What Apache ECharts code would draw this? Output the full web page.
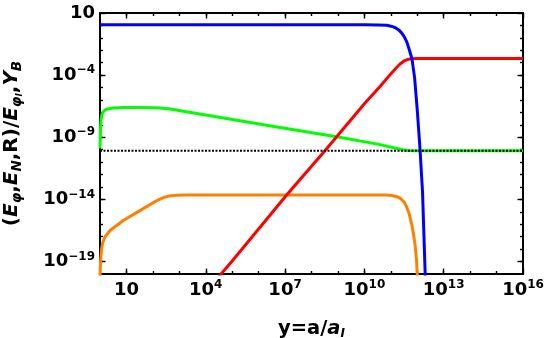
<!DOCTYPE html>
<html><head><meta charset="utf-8">
<script src="https://cdn.jsdelivr.net/npm/echarts@6/dist/echarts.min.js"></script>
<style>html,body{margin:0;padding:0;background:#fff}#c{width:550px;height:338px}</style>
</head><body><div id="c"></div><script>
// Tick exponents (powers of ten)
const xMajorExp = [1, 4, 7, 10, 13, 16];
const xMinorExp = [1, 2, 3, 4, 5, 6, 7, 8, 9, 10, 11, 12, 13, 14, 15];
const yMajorExp = [-19, -14, -9, -4, 1];
const yMinorExp = [-19, -18, -17, -16, -15, -14, -13, -12, -11, -10, -9, -8, -7, -6, -5, -4, -3, -2, -1, 0];
const xRangeExp = [0, 16];
const yRangeExp = [-20, 1];

// Series values, as log10(x) and log10(y)
const blueLogX   = [0, 10.0, 10.5, 10.85, 11.0, 11.1, 11.2, 11.3, 11.4, 11.5, 11.6, 11.7, 11.8, 11.9, 12.0, 12.1, 12.2, 12.3, 12.32];
const blueLogY   = [0.05, 0.05, 0.04, 0.01, -0.06, -0.12, -0.22, -0.36, -0.58, -0.88, -1.3, -1.96, -2.7, -4.2, -6.8, -9.8, -13.4, -20.0, -21.0];
const redLogX    = [4.5, 5.0, 7.06, 8.5, 10.0, 10.6, 11.0, 11.2, 11.35, 11.5, 11.65, 11.8, 12.0, 16];
const redLogY    = [-20.2, -18.95, -13.65, -10.1, -6.3, -4.9, -3.9, -3.42, -3.1, -2.86, -2.73, -2.68, -2.66, -2.66];
const greenLogX  = [0, 0.01, 0.02, 0.04, 0.07, 0.12, 0.2, 0.3, 0.5, 0.9, 1.5, 2.1, 2.6, 3.1, 4.0, 6.81, 8.95, 10.5, 11.2, 11.45, 11.65, 12.0, 16];
const greenLogY  = [-9.9, -9.0, -8.3, -7.6, -7.2, -6.95, -6.8, -6.72, -6.65, -6.61, -6.6, -6.63, -6.7, -6.88, -7.2, -8.22, -8.95, -9.55, -9.88, -10.0, -10.07, -10.08, -10.08];
const orangeLogX = [0, 0.01, 0.03, 0.06, 0.1, 0.19, 0.38, 0.88, 1.51, 2.14, 2.4, 2.6, 2.9, 3.3, 10.8, 11.03, 11.2, 11.35, 11.5, 11.6, 11.7, 11.79, 11.86, 11.92, 11.97, 12.0, 12.02];
const orangeLogY = [-20.5, -19.5, -18.7, -18.0, -17.5, -17.0, -16.5, -15.7, -14.9, -14.1, -13.85, -13.73, -13.67, -13.65, -13.65, -13.68, -13.76, -13.9, -14.2, -14.6, -15.2, -16.0, -16.8, -17.7, -18.8, -20.0, -21.0];
const dottedLogY = -10.08;

const FONT = 'DejaVu Sans';
const pairs = (lx, ly) => lx.map((v, i) => [Math.pow(10, v), Math.pow(10, ly[i])]);
const pw = e => Math.pow(10, e);

function expLabel(v) {
  const e = Math.round(Math.log10(v));
  if (e === 1) return '10';
  return '10{sup|' + (e < 0 ? '\u2212' + (-e) : String(e)) + '}';
}
const labelStyle = {
  fontFamily: FONT, fontWeight: 'bold', fontSize: 18, color: '#000', lineHeight: 22,
  rich: { sup: { fontFamily: FONT, fontWeight: 'bold', fontSize: 12, color: '#000', verticalAlign: 'top', lineHeight: 12 } }
};

function axis(pos, exps, len, withLine, withLabel, range) {
  return {
    type: 'log', logBase: 10, position: pos,
    min: pw(range[0]), max: pw(range[1]),
    axisLine: { show: withLine, onZero: false, lineStyle: { color: '#000', width: 2 } },
    axisTick: { show: true, inside: true, length: len, customValues: exps.map(pw), lineStyle: { color: '#000', width: 1.4 } },
    axisLabel: withLabel ? Object.assign({ show: true, margin: 5, customValues: exps.map(pw), formatter: expLabel }, labelStyle) : { show: false },
    splitLine: { show: false }, minorTick: { show: false }, minorSplitLine: { show: false }
  };
}

const xAxes = [
  Object.assign(axis('bottom', xMajorExp, 5.5, true, true, xRangeExp), {
    name: 'y=a/{i|a}{sub|I}', nameLocation: 'middle', nameGap: 43,
    nameTextStyle: { fontFamily: FONT, fontWeight: 'bold', fontSize: 19.5, color: '#000', lineHeight: 23,
      rich: { i: { fontFamily: FONT, fontWeight: 'bold', fontStyle: 'italic', fontSize: 19.5, color: '#000', lineHeight: 23 },
              sub: { fontFamily: FONT, fontWeight: 'bold', fontStyle: 'italic', fontSize: 12, color: '#000', verticalAlign: 'bottom', lineHeight: 12 } } }
  }),
  axis('bottom', xMinorExp, 3, false, false, xRangeExp),
  axis('top', xMajorExp, 5.5, true, false, xRangeExp),
  axis('top', xMinorExp, 3, false, false, xRangeExp)
];
const yAxes = [
  Object.assign(axis('left', yMajorExp, 5.5, true, true, yRangeExp), {
    name: '({i|E}{sub|\u03c6},{i|E}{sub|N},R)/{i|E}{sub|\u03c6}{sub2|I},{i|Y}{sub|B}',
    nameLocation: 'middle', nameGap: 76,
    nameTextStyle: { fontFamily: FONT, fontWeight: 'bold', fontSize: 20, color: '#000', lineHeight: 24,
      rich: { i: { fontFamily: FONT, fontWeight: 'bold', fontStyle: 'italic', fontSize: 20, color: '#000', lineHeight: 24 },
              sub: { fontFamily: FONT, fontWeight: 'bold', fontStyle: 'italic', fontSize: 13.5, color: '#000', verticalAlign: 'bottom', lineHeight: 14 },
              sub2: { fontFamily: FONT, fontWeight: 'bold', fontStyle: 'italic', fontSize: 9, color: '#000', verticalAlign: 'bottom', lineHeight: 7 } } }
  }),
  axis('left', yMinorExp, 3, false, false, yRangeExp),
  axis('right', yMajorExp, 5.5, true, false, yRangeExp),
  axis('right', yMinorExp, 3, false, false, yRangeExp)
];

function lineSeries(data, color, z) {
  return { type: 'line', data: data, xAxisIndex: 0, yAxisIndex: 0, showSymbol: false, symbol: 'none',
    smooth: false, clip: true, z: z, animation: false,
    lineStyle: { color: color, width: 3, join: 'round', cap: 'butt' } };
}

const chart = echarts.init(document.getElementById('c'), null, { renderer: 'canvas' });
chart.setOption({
  animation: false,
  backgroundColor: '#fff',
  grid: { left: 100, right: 27, top: 13, bottom: 64, containLabel: false, outerBoundsMode: 'none' },
  xAxis: xAxes,
  yAxis: yAxes,
  series: [
    lineSeries(pairs(orangeLogX, orangeLogY), '#FF8000', 2),
    lineSeries(pairs(greenLogX, greenLogY), '#00FF00', 3),
    lineSeries(pairs(redLogX, redLogY), '#FF0000', 4),
    lineSeries(pairs(blueLogX, blueLogY), '#0000FF', 5),
    { type: 'line', data: [[pw(xRangeExp[0]), pw(dottedLogY)], [pw(xRangeExp[1]), pw(dottedLogY)]],
      showSymbol: false, symbol: 'none', z: 6, animation: false,
      lineStyle: { color: '#000', width: 2, type: [2, 1.5] } }
  ]
});
</script></body></html>
